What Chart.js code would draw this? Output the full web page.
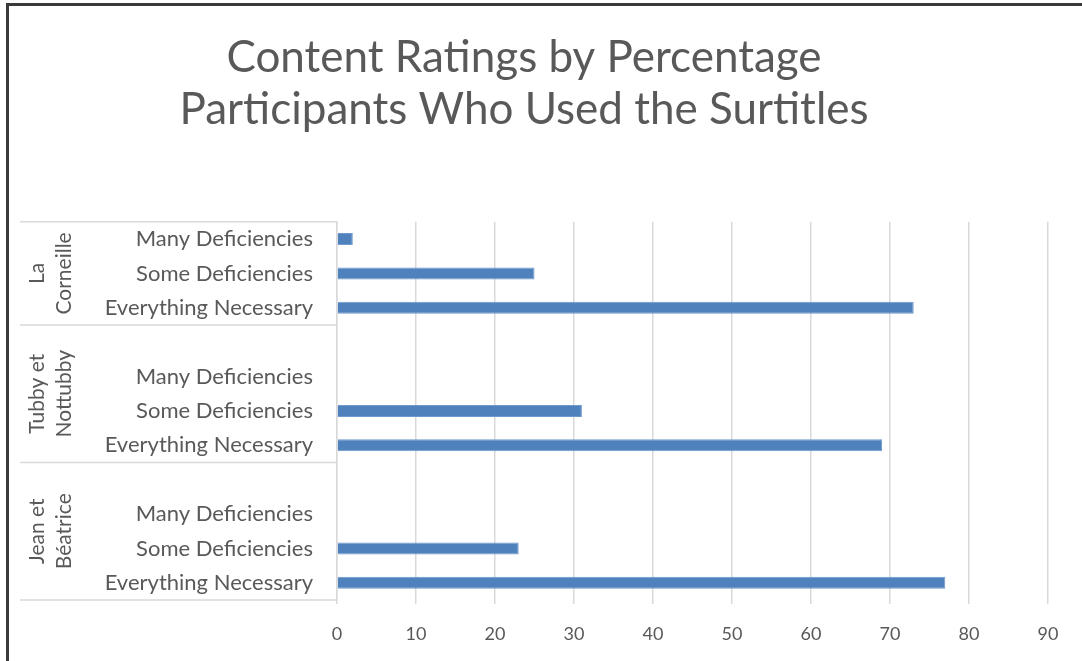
<!DOCTYPE html>
<html>
<head>
<meta charset="utf-8">
<script src="https://cdn.jsdelivr.net/npm/chart.js@4/dist/chart.umd.min.js"></script>
<style>
  html, body { margin: 0; padding: 0; background: #fff; }
  #wrap { width: 1082px; height: 661px; position: relative; }
</style>
</head>
<body>
<div id="wrap"><canvas id="chart"></canvas></div>
<script>
const titleLines = ["Content Ratings by Percentage", "Participants Who Used the Surtitles"];
// rows run top to bottom, "" rows are the gaps Excel leaves between groups
const ratings = [
  "Many Deficiencies", "Some Deficiencies", "Everything Necessary", "",
  "Many Deficiencies", "Some Deficiencies", "Everything Necessary", "",
  "Many Deficiencies", "Some Deficiencies", "Everything Necessary"
];
const percentages = [2, 25, 73, null, 0, 31, 69, null, 0, 23, 77];
// group name lines, and first/last row index of each group
const groups = [["La", "Corneille"], ["Tubby et", "Nottubby"], ["Jean et", "Béatrice"]];
const groupRows = [[0, 2], [3, 6], [7, 10]];
const xTicks = [0, 10, 20, 30, 40, 50, 60, 70, 80, 90];

const FONT = "Lato, 'Open Sans', sans-serif";
const GREY = "#595959";

const groupLabels = {
  id: "groupLabels",
  beforeDraw(chart) {
    const ctx = chart.ctx;
    ctx.save();
    ctx.fillStyle = "#fff";
    ctx.fillRect(0, 0, chart.width, chart.height);
    // outer frame (only top and left visible in the crop)
    ctx.strokeStyle = "#3a3a3a";
    ctx.lineWidth = 3;
    ctx.beginPath();
    ctx.moveTo(7.5, chart.height + 5);
    ctx.lineTo(7.5, 4.5);
    ctx.lineTo(chart.width + 5, 4.5);
    ctx.stroke();
    ctx.restore();
  },
  afterDraw(chart) {
    const ctx = chart.ctx;
    const y = chart.scales.y;
    const left = 20, right = chart.chartArea.left;
    const half = (y.getPixelForValue(1) - y.getPixelForValue(0)) / 2;
    ctx.save();
    ctx.strokeStyle = "#d9d9d9";
    ctx.lineWidth = 1.5;
    const bounds = [y.getPixelForValue(0) - half];
    groupRows.forEach(r => bounds.push(y.getPixelForValue(r[1]) + half));
    ctx.beginPath();
    bounds.forEach(b => { ctx.moveTo(left, b); ctx.lineTo(right, b); });
    ctx.stroke();

    ctx.fillStyle = GREY;
    ctx.font = "21px " + FONT;
    ctx.textAlign = "center";
    ctx.textBaseline = "middle";
    groups.forEach((g, i) => {
      const mid = (bounds[i] + bounds[i + 1]) / 2;
      ctx.save();
      ctx.translate(51, mid);
      ctx.rotate(-Math.PI / 2);
      g.forEach((line, k) => ctx.fillText(line, 0, (k - (g.length - 1) / 2) * 27));
      ctx.restore();
    });
    ctx.restore();
  }
};

new Chart(document.getElementById("chart"), {
  type: "bar",
  data: {
    labels: ratings,
    datasets: [{
      data: percentages,
      backgroundColor: "#4F81BD",
      borderColor: "#6f99cc",
      borderWidth: 1,
      categoryPercentage: 1,
      barPercentage: 0.35
    }]
  },
  options: {
    indexAxis: "y",
    responsive: true,
    maintainAspectRatio: false,
    animation: false,
    layout: { padding: { left: 0, right: 34, top: 0, bottom: 0 } },
    plugins: {
      legend: { display: false },
      tooltip: { enabled: false },
      title: {
        display: true,
        text: titleLines,
        color: GREY,
        font: { family: FONT, size: 44, weight: "normal", lineHeight: 1.18 },
        padding: { top: 32, bottom: 86 }
      }
    },
    scales: {
      x: {
        min: 0,
        max: 90,
        afterFit: s => { s.height = 61; },
        afterBuildTicks: s => { s.ticks = xTicks.map(v => ({ value: v })); },
        grid: { color: "#d9d9d9", lineWidth: 1.5, tickLength: 4 },
        border: { display: false },
        ticks: { color: GREY, font: { family: FONT, size: 18 }, padding: 19 }
      },
      y: {
        afterFit: s => { s.width = 337; },
        grid: { display: false, drawTicks: false },
        border: { display: true, color: "#d9d9d9", width: 1.5 },
        ticks: { color: GREY, font: { family: FONT, size: 22 }, padding: 24, autoSkip: false }
      }
    }
  },
  plugins: [groupLabels]
});
</script>
</body>
</html>
